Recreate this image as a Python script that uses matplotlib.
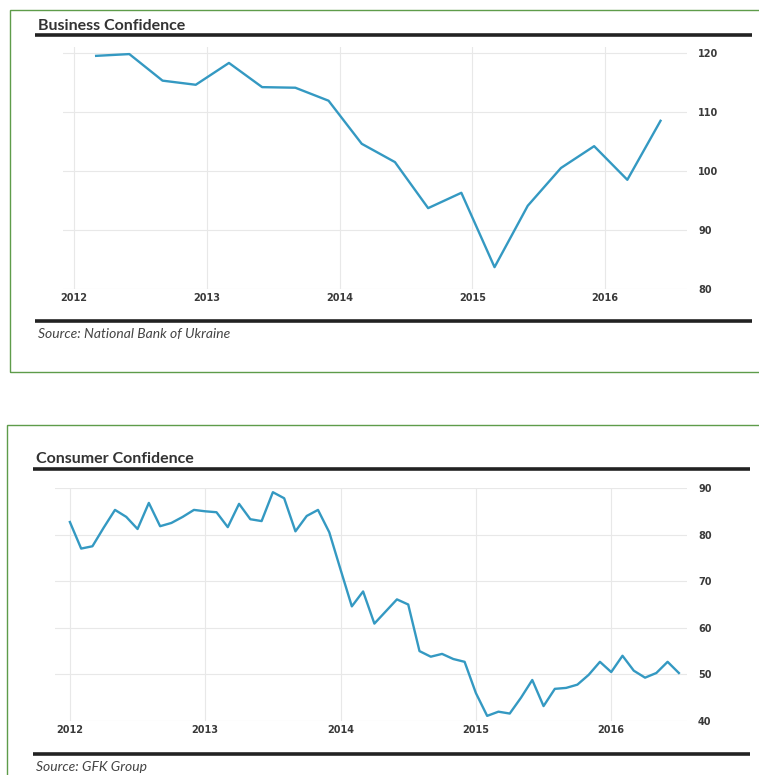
import matplotlib.pyplot as plt
from matplotlib.patches import Rectangle
from matplotlib.lines import Line2D

# business confidence, quarterly (National Bank of Ukraine)
biz_dates = ['2012-03', '2012-06', '2012-09', '2012-12',
             '2013-03', '2013-06', '2013-09', '2013-12',
             '2014-03', '2014-06', '2014-09', '2014-12',
             '2015-03', '2015-06', '2015-09', '2015-12',
             '2016-03', '2016-06']
biz_vals = [119.5, 119.8, 115.3, 114.6,
            118.3, 114.2, 114.1, 111.9,
            104.6, 101.5, 93.7, 96.3,
            83.7, 94.1, 100.5, 104.2,
            98.5, 108.5]

# consumer confidence, monthly (GFK), Jan 2012 .. Jul 2016
cons_start = 2012
cons_vals = [82.7, 77.0, 77.5, 81.5, 85.3, 83.8, 81.2, 86.8, 81.8, 82.5, 83.8, 85.3,
             85.0, 84.8, 81.6, 86.6, 83.3, 82.9, 89.1, 87.8, 80.7, 84.0, 85.3, 80.5,
             72.5, 64.6, 67.8, 60.9, 63.5, 66.1, 65.0, 55.0, 53.8, 54.4, 53.3, 52.7,
             46.0, 41.1, 42.0, 41.6, 45.0, 48.8, 43.2, 46.9, 47.1, 47.8, 49.9, 52.7,
             50.5, 54.0, 50.8, 49.3, 50.3, 52.7, 50.3]

years = [2012, 2013, 2014, 2015, 2016]
biz_yticks = [80, 90, 100, 110, 120]
cons_yticks = [40, 50, 60, 70, 80, 90]


def to_year(s):
    y, m = s.split('-')
    return int(y) + (int(m) - 1) / 12


biz_x = [to_year(d) for d in biz_dates]
cons_x = [cons_start + i / 12 for i in range(len(cons_vals))]

W, H = 759, 775
fig = plt.figure(figsize=(W / 100, H / 100), dpi=100)


def fx(x):
    return x / W


def fy(y):
    return 1 - y / H


LINE = '#3499c2'
GREEN = '#5e9c4a'


def frame(x0, y0, x1, y1):
    fig.add_artist(Rectangle((fx(x0), fy(y1)), fx(x1) - fx(x0), fy(y0) - fy(y1),
                             transform=fig.transFigure, fill=False,
                             edgecolor=GREEN, lw=1.0))


def bar(x0, x1, y):
    fig.add_artist(Line2D([fx(x0), fx(x1)], [fy(y), fy(y)],
                          transform=fig.transFigure, color='#222222', lw=2.6,
                          solid_capstyle='butt'))


def style(ax, yticks):
    for s in ax.spines.values():
        s.set_visible(False)
    ax.set_xticks(years)
    ax.set_xticklabels([str(y) for y in years])
    ax.set_yticks(yticks)
    ax.yaxis.tick_right()
    ax.grid(True, color='#e8e8e8', lw=0.8)
    ax.set_axisbelow(True)
    ax.tick_params(axis='both', length=0, labelsize=7, labelcolor='#3a3a3a')
    ax.tick_params(axis='y', pad=8)
    ax.tick_params(axis='x', pad=3)
    for lab in ax.get_xticklabels() + ax.get_yticklabels():
        lab.set_fontweight('bold')


# --- top panel
frame(10, 10, 762, 372)
fig.text(fx(38), fy(30), 'Business Confidence', family='Lato', fontsize=11.5,
         fontweight='bold', color='#333333', va='baseline')
bar(35, 752, 35)
ax1 = fig.add_axes([fx(63), fy(289), fx(687) - fx(63), fy(47) - fy(289)])
ax1.plot(biz_x, biz_vals, color=LINE, lw=1.7)
ax1.set_xlim(2011.917, 2016.616)
ax1.set_ylim(80, 121)
style(ax1, biz_yticks)
bar(35, 752, 321)
fig.text(fx(38), fy(338), 'Source: National Bank of Ukraine', family='Lato',
         fontsize=10, style='italic', color='#444444', va='baseline')

# --- bottom panel
frame(7, 425, 762, 780)
fig.text(fx(36), fy(463), 'Consumer Confidence', family='Lato', fontsize=11.5,
         fontweight='bold', color='#333333', va='baseline')
bar(33, 750, 469)
ax2 = fig.add_axes([fx(55), fy(721), fx(687) - fx(55), fy(488) - fy(721)])
ax2.plot(cons_x, cons_vals, color=LINE, lw=1.7)
ax2.set_xlim(2011.89, 2016.56)
ax2.set_ylim(40, 90)
style(ax2, cons_yticks)
bar(33, 750, 754)
fig.text(fx(36), fy(771), 'Source: GFK Group', family='Lato',
         fontsize=10, style='italic', color='#444444', va='baseline')

fig.savefig('out.png', dpi=100)
